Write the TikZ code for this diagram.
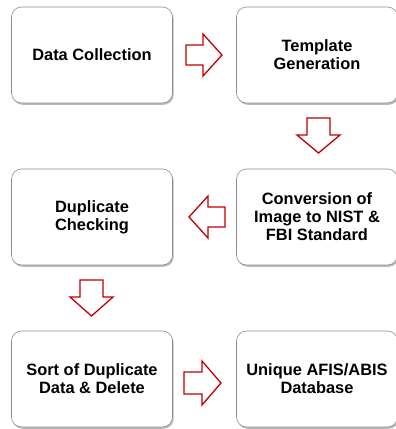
\documentclass[tikz,border=0pt]{standalone}
\usepackage{fontspec}
\setmainfont{Liberation Sans}
\usetikzlibrary{shadows}
\begin{document}
\begin{tikzpicture}[x=1pt,y=-1pt,
  stepbox/.style={draw=black!45, line width=0.6pt, rounded corners=10pt, fill=white,
    minimum width=161pt, minimum height=96pt, align=center,
    font=\fontsize{16.4}{18}\selectfont\bfseries,
    drop shadow={shadow xshift=1.2pt, shadow yshift=-1.8pt, fill=black!45, opacity=0.6}},
  arr/.style={draw=red!75!black, line width=1.3pt, fill=white, line join=miter}]
\useasboundingbox (0,0) rectangle (396,429);
\node[stepbox] (b1) at (92,55) {Data Collection};
\node[stepbox] (b2) at (317,55) {Template\\Generation};
\node[stepbox] (b3) at (317,217) {Conversion of\\Image to NIST \&\\FBI Standard};
\node[stepbox] (b4) at (92,217) {Duplicate\\Checking};
\node[stepbox] (b5) at (92,379) {Sort of Duplicate\\Data \& Delete};
\node[stepbox] (b6) at (317,379) {Unique AFIS/ABIS\\Database};
% right arrow b1 -> b2
\draw[arr] (186,45) -- (203,45) -- (203,34) -- (222,55) -- (203,76) -- (203,65) -- (186,65) -- cycle;
% down arrow b2 -> b3
\draw[arr] (307,118) -- (330,118) -- (330,135) -- (340,135) -- (318.5,153) -- (297,135) -- (307,135) -- cycle;
% left arrow b3 -> b4
\draw[arr] (225,207) -- (208,207) -- (208,196) -- (189,217) -- (208,238) -- (208,227) -- (225,227) -- cycle;
% down arrow b4 -> b5
\draw[arr] (80,280) -- (103,280) -- (103,297) -- (113,297) -- (91.5,316) -- (70,297) -- (80,297) -- cycle;
% right arrow b5 -> b6
\draw[arr] (184,372) -- (202,372) -- (202,361) -- (221,383) -- (202,405) -- (202,394) -- (184,394) -- cycle;
\end{tikzpicture}
\end{document}
